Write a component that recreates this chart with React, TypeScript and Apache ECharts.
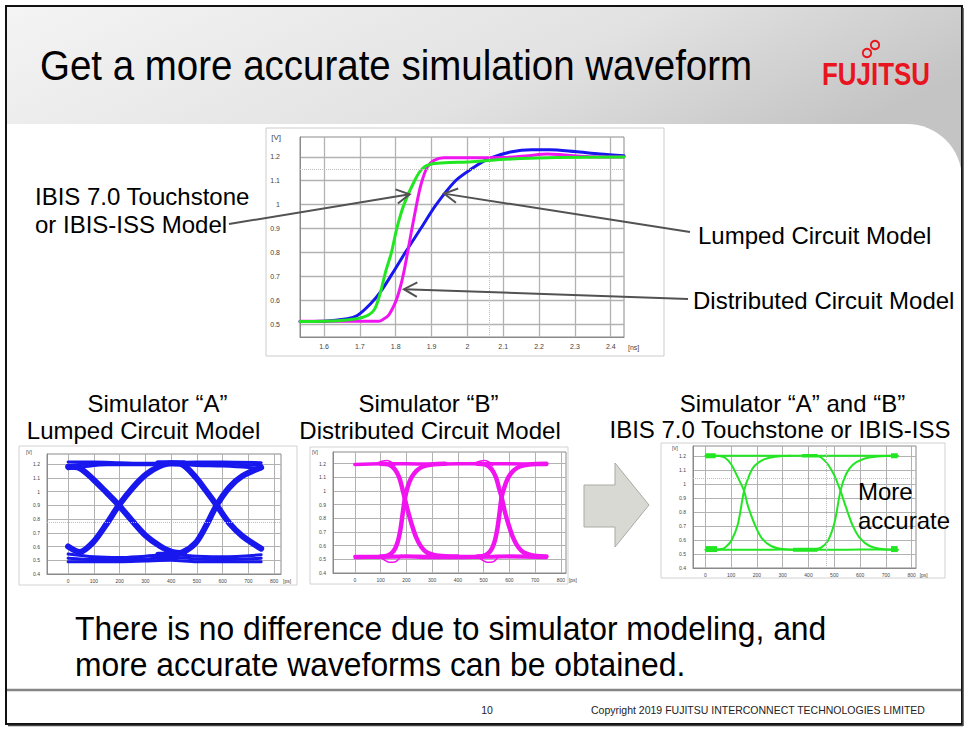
import React, { useEffect, useRef } from 'react';
import * as echarts from 'echarts';

// ---------- tick values ----------
const mainXTicks = [1.6, 1.7, 1.8, 1.9, 2, 2.1, 2.2, 2.3, 2.4];
const mainYTicks = [0.5, 0.6, 0.7, 0.8, 0.9, 1, 1.1, 1.2];
const eyeXTicks = [0, 100, 200, 300, 400, 500, 600, 700, 800];
const eyeYTicks = [0.4, 0.5, 0.6, 0.7, 0.8, 0.9, 1, 1.1, 1.2];

// ---------- main waveform (x: ns, y: V) ----------
const ibisMain = [[1.533, 0.511], [1.6, 0.512], [1.665, 0.517], [1.712, 0.53], [1.74, 0.56], [1.758, 0.636], [1.772, 0.72], [1.788, 0.799], [1.803, 0.9], [1.823, 1.0], [1.853, 1.101], [1.874, 1.15], [1.902, 1.171], [1.95, 1.176], [2.0, 1.178], [2.06, 1.185], [2.15, 1.193], [2.25, 1.197], [2.437, 1.199]];
const distributedMain = [[1.533, 0.512], [1.6, 0.512], [1.7, 0.512], [1.753, 0.512], [1.765, 0.52], [1.781, 0.539], [1.8, 0.594], [1.812, 0.65], [1.823, 0.719], [1.842, 0.872], [1.856, 0.983], [1.87, 1.081], [1.888, 1.157], [1.907, 1.185], [1.935, 1.196], [2.0, 1.196], [2.1, 1.197], [2.17, 1.205], [2.223, 1.212], [2.27, 1.208], [2.35, 1.2], [2.437, 1.199]];
const lumpedMain = [[1.533, 0.511], [1.6, 0.512], [1.665, 0.522], [1.693, 0.536], [1.73, 0.585], [1.758, 0.636], [1.79, 0.71], [1.827, 0.8], [1.87, 0.9], [1.913, 1.0], [1.967, 1.1], [2.012, 1.15], [2.06, 1.192], [2.12, 1.22], [2.18, 1.23], [2.23, 1.23], [2.3, 1.222], [2.37, 1.212], [2.437, 1.205]];
const mainGuideY = 1.15;
const mainGuideX = 2.06;

// ---------- eye A: lumped (x: ps, y: V) ----------
const lumpedEyeRise1 = [[0, 0.6], [45, 0.56], [97, 0.63], [148, 0.76], [197, 0.9], [252, 1.03], [303, 1.125], [355, 1.183], [400, 1.205], [450, 1.205]];
const lumpedEyeFall1 = [[0, 1.18], [45, 1.17], [97, 1.09], [148, 0.995], [197, 0.9], [252, 0.78], [303, 0.676], [355, 0.605], [400, 0.563], [450, 0.55]];
const lumpedEyeRise2 = [[350, 0.54], [400, 0.54], [445, 0.558], [497, 0.63], [535, 0.747], [577, 0.9], [626, 1.03], [677, 1.113], [750, 1.175]];
const lumpedEyeFall2 = [[350, 1.205], [400, 1.205], [445, 1.195], [497, 1.1], [535, 1.007], [577, 0.9], [626, 0.77], [677, 0.676], [750, 0.585]];
const lumpedEyeHigh1 = [[0, 1.215], [100, 1.215], [200, 1.21], [300, 1.205], [400, 1.21], [500, 1.215], [600, 1.215], [750, 1.21]];
const lumpedEyeHigh2 = [[0, 1.165], [60, 1.18], [150, 1.195], [300, 1.195], [400, 1.2], [500, 1.19], [600, 1.185], [700, 1.175], [750, 1.165]];
const lumpedEyeHigh3 = [[0, 1.19], [100, 1.2], [200, 1.2], [300, 1.2], [400, 1.205], [500, 1.2], [600, 1.2], [750, 1.19]];
const lumpedEyeLow1 = [[0, 0.49], [100, 0.49], [200, 0.49], [300, 0.495], [400, 0.5], [500, 0.49], [600, 0.49], [750, 0.49]];
const lumpedEyeLow2 = [[0, 0.545], [100, 0.525], [200, 0.52], [300, 0.53], [400, 0.54], [500, 0.53], [600, 0.525], [750, 0.54]];
const lumpedEyeLow3 = [[0, 0.515], [100, 0.505], [200, 0.505], [300, 0.51], [400, 0.52], [500, 0.51], [600, 0.505], [750, 0.515]];
const lumpedEyeGuideY = 0.78;

// ---------- eye B: distributed ----------
const distEyeHigh = [[0, 1.195], [100, 1.2], [200, 1.2], [300, 1.198], [400, 1.2], [500, 1.2], [600, 1.2], [744, 1.195]];
const distEyeLow1 = [[0, 0.52], [100, 0.52], [200, 0.525], [300, 0.52], [400, 0.52], [500, 0.52], [600, 0.525], [744, 0.52]];
const distEyeLow2 = [[0, 0.51], [100, 0.512], [200, 0.515], [300, 0.51], [400, 0.51], [480, 0.512], [580, 0.515], [744, 0.51]];
const distEyeFall1 = [[100, 1.2], [130, 1.195], [155, 1.16], [172, 1.1], [184, 1.02], [194, 0.943], [205, 0.86], [220, 0.76], [238, 0.66], [258, 0.59], [280, 0.55], [310, 0.53], [350, 0.522], [400, 0.52]];
const distEyeRise1 = [[100, 0.52], [130, 0.53], [150, 0.56], [165, 0.62], [177, 0.72], [186, 0.84], [194, 0.943], [205, 1.03], [220, 1.1], [240, 1.15], [265, 1.18], [300, 1.195], [350, 1.2]];
const distEyeFall2 = [[476, 1.2], [506, 1.195], [531, 1.16], [548, 1.1], [560, 1.02], [570, 0.955], [581, 0.86], [596, 0.76], [614, 0.66], [634, 0.59], [656, 0.55], [686, 0.53], [726, 0.522], [744, 0.52]];
const distEyeRise2 = [[476, 0.52], [506, 0.53], [526, 0.56], [541, 0.62], [553, 0.72], [562, 0.84], [570, 0.955], [581, 1.03], [596, 1.1], [616, 1.15], [641, 1.18], [676, 1.195], [744, 1.2]];
const distEyeRingHigh1 = [[80, 1.2], [105, 1.218], [125, 1.224], [142, 1.212], [155, 1.185]];
const distEyeRingHigh2 = [[460, 1.2], [485, 1.218], [505, 1.224], [522, 1.212], [535, 1.185]];
const distEyeRingLow1 = [[95, 0.52], [115, 0.495], [135, 0.478], [155, 0.48], [170, 0.5], [180, 0.53]];
const distEyeRingLow2 = [[475, 0.52], [495, 0.495], [515, 0.478], [535, 0.48], [550, 0.5], [560, 0.53]];

// ---------- eye C: IBIS 7.0 ----------
const ibisEyeHigh = [[0, 1.2], [100, 1.2], [200, 1.2], [300, 1.2], [400, 1.2], [500, 1.2], [600, 1.2], [746, 1.2]];
const ibisEyeLow = [[0, 0.53], [100, 0.53], [200, 0.53], [300, 0.532], [400, 0.53], [500, 0.53], [600, 0.532], [746, 0.53]];
const ibisEyeFall1 = [[40, 1.2], [55, 1.198], [75, 1.188], [100, 1.14], [126, 1.045], [150, 0.95], [165, 0.843], [191, 0.712], [217, 0.617], [255, 0.557], [307, 0.533], [360, 0.53]];
const ibisEyeRise1 = [[40, 0.53], [62, 0.535], [75, 0.545], [100, 0.593], [126, 0.712], [150, 0.95], [172, 1.07], [191, 1.129], [230, 1.176], [281, 1.195], [330, 1.2]];
const ibisEyeFall2 = [[400, 1.2], [430, 1.198], [449, 1.188], [475, 1.14], [501, 1.057], [524, 0.95], [546, 0.83], [572, 0.7], [598, 0.617], [637, 0.557], [694, 0.533], [746, 0.53]];
const ibisEyeRise2 = [[400, 0.53], [430, 0.535], [449, 0.545], [475, 0.593], [501, 0.724], [524, 0.95], [546, 1.07], [572, 1.136], [611, 1.176], [668, 1.195], [746, 1.2]];
const ibisEyeHighBlobL = [[0, 1.2], [40, 1.2]];
const ibisEyeHighBlobM = [[375, 1.2], [435, 1.2]];
const ibisEyeHighBlobR = [[720, 1.2], [746, 1.2]];
const ibisEyeLowBlobL = [[0, 0.535], [45, 0.535]];
const ibisEyeLowBlobM = [[340, 0.53], [435, 0.53]];
const ibisEyeLowBlobR = [[720, 0.535], [746, 0.535]];
const ibisEyeGuideY = 1.036;
const ibisEyeGuideX = 470;

const FONT = '"Liberation Sans", Arial, Helvetica, sans-serif';
const BLUE = '#1717ee';
const MAGENTA = '#f014f0';
const GREEN = '#22e622';

function axis(gridIndex: number, min: number, max: number, ticks: number[], fontSize: number, margin: number, name: string, nameStyle: any, nameGap: number) {
  return {
    type: 'value',
    gridIndex,
    min,
    max,
    axisLine: { show: true, onZero: false, lineStyle: { color: '#8a8a8a', width: 1 } },
    axisTick: { show: false, customValues: ticks },
    axisLabel: { customValues: ticks, fontSize, color: '#444', margin, fontFamily: FONT },
    splitLine: { show: true, lineStyle: { color: '#b2b2b2', width: gridIndex === 0 ? 1.3 : 1 } },
    name,
    nameLocation: 'end',
    nameGap,
    nameTextStyle: { fontSize, color: '#444', fontFamily: FONT, ...nameStyle },
  };
}

function line(idx: number, data: number[][], color: string, width: number, extra: any = {}) {
  return {
    type: 'line',
    xAxisIndex: idx,
    yAxisIndex: idx,
    data,
    symbol: 'none',
    showSymbol: false,
    smooth: 0.3,
    silent: true,
    z: 3,
    lineStyle: { color, width, cap: 'round', join: 'round' },
    ...extra,
  };
}

function blob(idx: number, data: number[][], color: string, width: number) {
  return line(idx, data, color, width, { smooth: false, lineStyle: { color, width, cap: 'butt' } });
}

function guides(list: any[]) {
  return {
    markLine: {
      silent: true,
      symbol: 'none',
      label: { show: false },
      lineStyle: { type: 'dotted', color: '#bdbdbd', width: 1 },
      data: list,
    },
  };
}

function T(text: string, x: number, y: number, size: number, align = 'left', extra: any = {}, el: any = {}) {
  return {
    type: 'text',
    x,
    y,
    z: 50,
    silent: true,
    ...el,
    style: {
      text,
      fontSize: size,
      fontFamily: FONT,
      fill: '#000',
      align,
      verticalAlign: 'middle',
      textAlign: align,
      textVerticalAlign: 'middle',
      ...extra,
    },
  };
}

function arrow(x1: number, y1: number, x2: number, y2: number) {
  const ang = Math.atan2(y2 - y1, x2 - x1);
  const L = 15;
  const a = 0.5;
  const p1 = [x2 - L * Math.cos(ang - a), y2 - L * Math.sin(ang - a)];
  const p2 = [x2 - L * Math.cos(ang + a), y2 - L * Math.sin(ang + a)];
  return [
    { type: 'line', z: 60, silent: true, shape: { x1, y1, x2, y2 }, style: { stroke: '#525252', lineWidth: 2 } },
    { type: 'polyline', z: 60, silent: true, shape: { points: [p1, [x2, y2], p2] }, style: { stroke: '#525252', lineWidth: 2, fill: 'none' } },
  ];
}

export default function App() {
  const ref = useRef<HTMLDivElement>(null);
  useEffect(() => {
    document.body.style.margin = '0';
    const chart = echarts.init(ref.current!, null, { renderer: 'svg' });
    const gridBase = { show: true, borderColor: '#8a8a8a', borderWidth: 1, backgroundColor: 'transparent', outerBoundsMode: 'none' };
    const nameX = { verticalAlign: 'top', align: 'left', padding: [4, 0, 0, 0] };
    const nameY = { align: 'right', verticalAlign: 'middle', padding: [0, 15, 0, 0] };
    chart.setOption({
      animation: false,
      grid: [
        { ...gridBase, left: 300, top: 137, width: 324, height: 200 },
        { ...gridBase, left: 47, top: 454, width: 234, height: 120 },
        { ...gridBase, left: 333, top: 452, width: 233, height: 121 },
        { ...gridBase, left: 693, top: 446, width: 223, height: 122 },
      ],
      xAxis: [
        axis(0, 1.533, 2.437, mainXTicks, 7, 6, '[ns]', { verticalAlign: 'top', align: 'left', padding: [7, 0, 0, 0] }, 4),
        axis(1, -82, 827, eyeXTicks, 5, 4, '[ps]', nameX, 2),
        axis(2, -85, 820, eyeXTicks, 5, 4, '[ps]', nameX, 2),
        axis(3, -48, 817, eyeXTicks, 5, 4, '[ps]', nameX, 2),
      ],
      yAxis: [
        axis(0, 0.446, 1.283, mainYTicks, 7, 20, '[V]', { fontSize: 8, align: 'right', verticalAlign: 'middle', padding: [0, 19, 0, 0] }, 0),
        axis(1, 0.4, 1.273, eyeYTicks, 5, 7, '[V]', nameY, 2),
        axis(2, 0.4, 1.286, eyeYTicks, 5, 7, '[V]', nameY, 0),
        axis(3, 0.4, 1.27, eyeYTicks, 5, 7, '[V]', nameY, -2),
      ],
      series: [
        line(0, lumpedMain, BLUE, 3, { name: 'Lumped Circuit Model', ...guides([{ yAxis: mainGuideY }, { xAxis: mainGuideX }]) }),
        line(0, distributedMain, MAGENTA, 3, { name: 'Distributed Circuit Model' }),
        line(0, ibisMain, GREEN, 3, { name: 'IBIS 7.0 Touchstone or IBIS-ISS Model' }),

        line(1, lumpedEyeHigh1, BLUE, 3, guides([{ yAxis: lumpedEyeGuideY }])),
        line(1, lumpedEyeHigh2, BLUE, 3),
        line(1, lumpedEyeHigh3, BLUE, 3),
        line(1, lumpedEyeLow1, BLUE, 3),
        line(1, lumpedEyeLow2, BLUE, 3),
        line(1, lumpedEyeLow3, BLUE, 3),
        line(1, lumpedEyeRise1, BLUE, 6),
        line(1, lumpedEyeFall1, BLUE, 6),
        line(1, lumpedEyeRise2, BLUE, 6),
        line(1, lumpedEyeFall2, BLUE, 6),

        line(2, distEyeHigh, MAGENTA, 3.5),
        line(2, distEyeLow1, MAGENTA, 3.5),
        line(2, distEyeLow2, MAGENTA, 2.5),
        line(2, distEyeFall1, MAGENTA, 4.5),
        line(2, distEyeRise1, MAGENTA, 4.5),
        line(2, distEyeFall2, MAGENTA, 4.5),
        line(2, distEyeRise2, MAGENTA, 4.5),
        line(2, distEyeRingHigh1, MAGENTA, 1.5),
        line(2, distEyeRingHigh2, MAGENTA, 1.5),
        line(2, distEyeRingLow1, MAGENTA, 1.5),
        line(2, distEyeRingLow2, MAGENTA, 1.5),

        line(3, ibisEyeHigh, GREEN, 2, guides([{ yAxis: ibisEyeGuideY }, { xAxis: ibisEyeGuideX }])),
        line(3, ibisEyeLow, GREEN, 2),
        line(3, ibisEyeFall1, GREEN, 2),
        line(3, ibisEyeRise1, GREEN, 2),
        line(3, ibisEyeFall2, GREEN, 2),
        line(3, ibisEyeRise2, GREEN, 2),
        blob(3, ibisEyeHighBlobL, GREEN, 5),
        blob(3, ibisEyeHighBlobM, GREEN, 3.5),
        blob(3, ibisEyeHighBlobR, GREEN, 5),
        blob(3, ibisEyeLowBlobL, GREEN, 6),
        blob(3, ibisEyeLowBlobM, GREEN, 4),
        blob(3, ibisEyeLowBlobR, GREEN, 6),
      ],
    });

    const px = (p: number[]) => chart.convertToPixel({ gridIndex: 0 }, p) as number[];
    const tipIbis = px([1.839, 1.043]);
    const tipLumped = px([1.935, 1.046]);
    const tipDist = px([1.823, 0.646]);

    const graphic: any[] = [
      // header background
      {
        type: 'rect', z: -20, silent: true,
        shape: { x: 7, y: 7, width: 955, height: 175 },
        style: { fill: new echarts.graphic.LinearGradient(0, 0, 1, 0.4, [{ offset: 0, color: '#f4f4f4' }, { offset: 0.6, color: '#e2e2e2' }, { offset: 1, color: '#c4c4c4' }]) },
      },
      { type: 'rect', z: -19, silent: true, shape: { x: 7, y: 124, width: 955, height: 598, r: [0, 55, 0, 0] }, style: { fill: '#ffffff' } },
      // chart frames
      { type: 'rect', z: -5, silent: true, shape: { x: 266, y: 128, width: 398, height: 228 }, style: { fill: '#fff', stroke: '#cccccc', lineWidth: 1 } },
      { type: 'rect', z: -5, silent: true, shape: { x: 19, y: 446, width: 278, height: 139 }, style: { fill: '#fff', stroke: '#d2d2d2', lineWidth: 1 } },
      { type: 'rect', z: -5, silent: true, shape: { x: 310, y: 447, width: 258, height: 137 }, style: { fill: '#fff', stroke: '#d2d2d2', lineWidth: 1 } },
      { type: 'rect', z: -5, silent: true, shape: { x: 661, y: 443, width: 284, height: 135 }, style: { fill: '#fff', stroke: '#d2d2d2', lineWidth: 1 } },
      // big grey arrow
      {
        type: 'polygon', z: 10, silent: true,
        shape: { points: [[584, 485], [615, 485], [615, 463], [649, 505], [615, 547], [615, 527], [584, 527]] },
        style: { fill: '#d9d9d4', stroke: '#a9a9a6', lineWidth: 1 },
      },
      // footer line and frame
      { type: 'line', z: 40, silent: true, shape: { x1: 7, y1: 690, x2: 962, y2: 690 }, style: { stroke: '#858585', lineWidth: 2.5 } },
      { type: 'rect', z: 70, silent: true, shape: { x: 6, y: 6, width: 956, height: 718 }, style: { fill: 'none', stroke: '#111', lineWidth: 2 } },
      { type: 'line', z: 70, silent: true, shape: { x1: 963, y1: 8, x2: 963, y2: 726 }, style: { stroke: '#444', lineWidth: 1.5 } },
      { type: 'line', z: 70, silent: true, shape: { x1: 8, y1: 725.5, x2: 963, y2: 725.5 }, style: { stroke: '#444', lineWidth: 1.5 } },
      // title & logo
      T('Get a more accurate simulation waveform', 40, 65, 43, 'left', {}, { scaleX: 0.895 }),
      T('FUJITSU', 822, 74, 32, 'left', { fill: '#e8141e', fontWeight: 'bold' }, { scaleX: 0.81 }),
      { type: 'circle', z: 50, silent: true, shape: { cx: 867, cy: 53, r: 4.2 }, style: { fill: 'none', stroke: '#e8141e', lineWidth: 1.8 } },
      { type: 'circle', z: 50, silent: true, shape: { cx: 875, cy: 45, r: 4.2 }, style: { fill: 'none', stroke: '#e8141e', lineWidth: 1.8 } },
      // callout labels
      T('IBIS 7.0 Touchstone', 35, 196, 24),
      T('or IBIS-ISS Model', 35, 224, 24),
      T('Lumped Circuit Model', 698, 235, 24),
      T('Distributed Circuit Model', 693, 300, 24),
      ...arrow(229, 224, tipIbis[0], tipIbis[1]),
      ...arrow(690, 232, tipLumped[0], tipLumped[1]),
      ...arrow(688, 299, tipDist[0], tipDist[1]),
      // eye headings
      T('Simulator “A”', 157.5, 403, 24, 'center'),
      T('Lumped Circuit Model', 143.5, 430, 24, 'center'),
      T('Simulator “B”', 428.5, 403, 24, 'center'),
      T('Distributed Circuit Model', 430, 430, 24, 'center'),
      T('Simulator “A” and “B”', 792.5, 403, 24, 'center'),
      T('IBIS 7.0 Touchstone or IBIS-ISS', 780, 429, 24, 'center'),
      T('More', 858, 491, 24),
      T('accurate', 858, 520, 24),
      // conclusion
      T('There is no difference due to simulator modeling, and', 75, 629, 33, 'left', {}, { scaleX: 0.965 }),
      T('more accurate waveforms can be obtained.', 75, 665, 33, 'left', {}, { scaleX: 0.965 }),
      // footer
      T('10', 487, 710, 10.5, 'center', { fill: '#222' }),
      T('Copyright 2019 FUJITSU INTERCONNECT TECHNOLOGIES LIMITED', 591, 710, 10.5, 'left', { fill: '#222' }),
    ];
    chart.setOption({ graphic });
    return () => chart.dispose();
  }, []);
  return <div ref={ref} style={{ width: 968, height: 730 }} />;
}
